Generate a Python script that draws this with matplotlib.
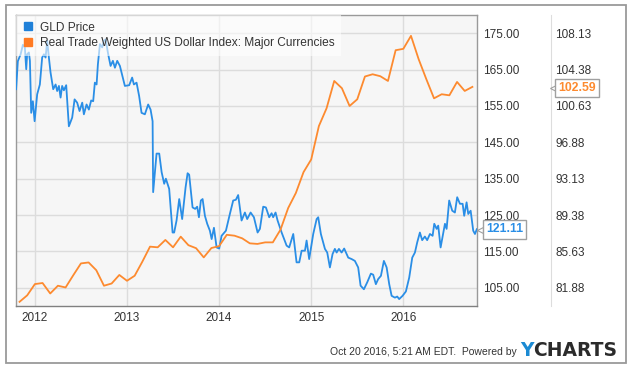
import numpy as np
import matplotlib
matplotlib.use("Agg")
import matplotlib.pyplot as plt
from matplotlib.lines import Line2D
from matplotlib.patches import Rectangle

plt.rcParams['font.family'] = ['Liberation Sans', 'DejaVu Sans']

# GLD price (left/inner right axis), x in decimal years
gld_years = [2011.796, 2011.815, 2011.845, 2011.870, 2011.891, 2011.906, 2011.916, 2011.935, 2011.946, 2011.960,
             2011.978, 2011.997, 2012.025, 2012.054, 2012.079, 2012.098, 2012.116, 2012.134, 2012.152, 2012.170,
             2012.199, 2012.225, 2012.242, 2012.261, 2012.279, 2012.296, 2012.315, 2012.340, 2012.369, 2012.405,
             2012.431, 2012.459, 2012.485, 2012.514, 2012.532, 2012.561, 2012.586, 2012.611, 2012.633, 2012.651,
             2012.670, 2012.684, 2012.706, 2012.731, 2012.749, 2012.768, 2012.796, 2012.822, 2012.847, 2012.869,
             2012.894, 2012.923, 2012.941, 2012.977, 2013.024, 2013.056, 2013.075, 2013.104, 2013.132, 2013.158,
             2013.194, 2013.230, 2013.256, 2013.278, 2013.284, 2013.321, 2013.350, 2013.376, 2013.404, 2013.422,
             2013.458, 2013.495, 2013.512, 2013.538, 2013.567, 2013.599, 2013.636, 2013.658, 2013.675, 2013.712,
             2013.740, 2013.762, 2013.781, 2013.802, 2013.821, 2013.846, 2013.871, 2013.900, 2013.919, 2013.944,
             2013.973, 2014.001, 2014.027, 2014.074, 2014.117, 2014.153, 2014.182, 2014.207, 2014.244, 2014.280,
             2014.305, 2014.342, 2014.378, 2014.418, 2014.443, 2014.479, 2014.508, 2014.544, 2014.570, 2014.587,
             2014.613, 2014.635, 2014.679, 2014.733, 2014.761, 2014.805, 2014.841, 2014.870, 2014.896, 2014.932,
             2014.950, 2014.978, 2015.022, 2015.059, 2015.076, 2015.105, 2015.149, 2015.174, 2015.203, 2015.232,
             2015.257, 2015.276, 2015.301, 2015.330, 2015.358, 2015.384, 2015.402, 2015.439, 2015.474, 2015.510,
             2015.536, 2015.572, 2015.608, 2015.648, 2015.673, 2015.702, 2015.727, 2015.757, 2015.789, 2015.819,
             2015.847, 2015.873, 2015.909, 2015.934, 2015.955, 2015.992, 2016.028, 2016.064, 2016.097, 2016.126,
             2016.151, 2016.180, 2016.205, 2016.234, 2016.259, 2016.289, 2016.318, 2016.336, 2016.362, 2016.379,
             2016.405, 2016.452, 2016.470, 2016.498, 2016.531, 2016.560, 2016.585, 2016.615, 2016.644, 2016.661,
             2016.687, 2016.705, 2016.731, 2016.759, 2016.778, 2016.798]
gld_price = [159.6, 167.3, 169.2, 171.8, 171.1, 165.1, 169.2, 169.7, 167.4, 153.1,
             156.3, 150.8, 158.2, 160.9, 168.3, 169.2, 168.3, 172.9, 168.3, 164.2,
             159.6, 160.9, 159.1, 160.5, 157.3, 160.5, 159.3, 160.7, 149.4, 151.8,
             156.8, 155.9, 153.6, 155.9, 152.7, 155.4, 154.0, 156.5, 156.3, 161.4,
             160.9, 166.4, 172.0, 171.1, 172.9, 173.3, 169.2, 166.0, 167.4, 165.5,
             167.4, 166.0, 164.2, 160.5, 160.7, 162.8, 160.9, 161.4, 157.7, 153.1,
             152.7, 155.4, 154.0, 150.8, 131.3, 141.9, 141.9, 136.8, 133.6, 135.0,
             132.2, 120.2, 120.2, 123.5, 129.4, 123.9, 132.6, 136.5, 136.1, 127.1,
             126.7, 127.3, 124.4, 129.0, 129.4, 124.8, 122.6, 120.7, 118.4, 121.5,
             116.1, 115.8, 119.3, 120.7, 125.3, 129.0, 129.2, 130.5, 123.5, 125.7,
             123.9, 125.7, 124.4, 120.2, 121.2, 127.3, 127.1, 124.4, 125.5, 124.4,
             125.7, 123.5, 120.2, 116.6, 116.1, 119.8, 112.0, 112.0, 115.2, 115.2,
             118.0, 112.9, 119.8, 123.9, 124.4, 119.8, 115.7, 114.7, 110.6, 114.3,
             115.7, 114.7, 115.7, 114.7, 115.8, 114.3, 113.3, 112.9, 112.4, 110.6,
             105.6, 104.6, 106.5, 108.9, 108.6, 106.0, 107.4, 108.3, 112.4, 110.6,
             106.0, 102.8, 102.3, 102.6, 101.9, 102.8, 104.0, 107.8, 113.3, 114.7,
             117.5, 120.2, 118.1, 119.1, 118.1, 119.8, 119.3, 122.6, 121.2, 122.1,
             116.1, 122.6, 121.2, 129.0, 126.2, 125.7, 129.9, 128.1, 128.1, 124.8,
             128.5, 125.3, 126.2, 120.7, 119.8, 121.11]

# Real trade weighted USD index, monthly Nov 2011 .. Oct 2016
usd_start_year = 2011
usd_start_month = 11
usd_index = [80.43, 81.10, 82.26, 82.37, 81.29, 82.09, 81.91, 83.17, 84.39, 84.49,
             83.69, 82.09, 82.32, 83.20, 82.60, 83.12, 84.57, 86.12, 86.05, 86.81,
             86.05, 87.15, 86.27, 85.96, 85.01, 85.98, 86.17, 87.34, 87.25, 86.98,
             86.46, 86.40, 86.56, 86.56, 87.87, 90.10, 91.65, 93.80, 95.11, 98.55,
             100.38, 103.20, 102.45, 100.62, 101.31, 103.66, 103.89, 103.69, 103.20, 106.37,
             106.51, 107.85, 105.44, 103.38, 101.41, 101.83, 101.72, 103.10, 102.17, 102.59]

gld_ticks = [105, 115, 125, 135, 145, 155, 165, 175]
usd_ticks = [81.88, 85.63, 89.38, 93.13, 96.88, 100.63, 104.38, 108.13]
year_ticks = [2012, 2013, 2014, 2015, 2016]

BLUE = '#2a8ee6'
ORANGE = '#fd8a2f'
W, H = 635, 370

fig = plt.figure(figsize=(W / 100, H / 100), dpi=100)
fig.patch.set_facecolor('white')

def fx(px):
    return px / W

def fy(py):
    return 1 - py / H

# outer frame
fig.add_artist(Rectangle((fx(6), fy(363)), fx(620), (363 - 5) / H, transform=fig.transFigure,
                         fill=False, ec='#9a9a9a', lw=1.3))

ax = fig.add_axes([fx(16), fy(306), fx(461), (306 - 15) / H])
ax.set_facecolor('#f6f6f6')
ax.set_xlim(2011.795, 2016.80)
ax.set_ylim(100, 180)
ax.plot(gld_years, gld_price, color=BLUE, lw=1.3, zorder=3)

ax2 = ax.twinx()
ax2.set_ylim(80, 110)
usd_years = usd_start_year + (usd_start_month - 1) / 12 + np.arange(len(usd_index)) / 12
ax2.plot(usd_years, usd_index, color=ORANGE, lw=1.3)

# GLD ticks on the inner right side (twinx moved them left, so set after it)
ax.set_xticks(year_ticks)
ax.set_xticklabels([str(y) for y in year_ticks])
ax.set_yticks(gld_ticks)
ax.set_yticklabels([f'{v:.2f}' for v in gld_ticks])
ax.yaxis.tick_right()
ax.tick_params(axis='both', length=0, labelsize=8.5, labelcolor='#333333')
ax.tick_params(axis='y', pad=4)
ax.tick_params(axis='x', pad=4)
ax.grid(True, color='#dcdcdc', lw=1)
ax.set_axisbelow(True)
for s in ax.spines.values():
    s.set_color('#9a9a9a')
    s.set_linewidth(1)
ax.spines['bottom'].set_color('#808080')

ax2.set_yticks(usd_ticks)
ax2.set_yticklabels([f'{v:.2f}' for v in usd_ticks])
ax2.tick_params(axis='y', length=0, labelsize=8.5, labelcolor='#333333', pad=3)
for k in ['top', 'bottom', 'left']:
    ax2.spines[k].set_visible(False)
ax2.spines['right'].set_position(('outward', 74 * 0.72))
ax2.spines['right'].set_color('#dddddd')

handles = [Line2D([], [], ls='none', marker='s', ms=6, color='#1f80d8'),
           Line2D([], [], ls='none', marker='s', ms=6, color='#ff7a22')]
leg = ax2.legend(handles, ['GLD Price', 'Real Trade Weighted US Dollar Index: Major Currencies'],
                 loc='upper left', bbox_to_anchor=(0, 1), borderaxespad=0, fontsize=8.6,
                 frameon=True, fancybox=False, handlelength=0.9, handletextpad=0.55,
                 labelspacing=0.32, borderpad=0.55)
leg.get_frame().set_facecolor('white')
leg.get_frame().set_alpha(0.6)
leg.get_frame().set_edgecolor('none')
for t in leg.get_texts():
    t.set_color('#333333')

# last-value flags
def flag(cx, cy, text, color, tip_x):
    fig.text(fx(cx), fy(cy), text, color=color, fontsize=8.8, fontweight='bold', ha='center', va='center',
             bbox=dict(boxstyle='square,pad=0.28', fc='white', ec='#a0a0a0', lw=1))
    fig.add_artist(Line2D([fx(tip_x)], [fy(cy)], transform=fig.transFigure, marker='<', ms=5,
                          mfc='white', mec='#a0a0a0', mew=0.8, ls='none'))

flag(504.5, 229.5, f'{gld_price[-1]:.2f}', BLUE, 480)
flag(577, 88, f'{usd_index[-1]:.2f}', ORANGE, 553)

# footer
fig.text(fx(517), fy(355), 'Oct 20 2016, 5:21 AM EDT.  Powered by', fontsize=7.5, color='#333333',
         ha='right', va='baseline')
ty = fig.text(fx(520), fy(356), 'Y', fontsize=13.5, fontweight='bold', color='#1b8ad3',
              ha='left', va='baseline', family='DejaVu Sans')
fig.canvas.draw()
bb = ty.get_window_extent(fig.canvas.get_renderer())
fig.text(bb.x1 / W, fy(356), 'CHARTS', fontsize=13.5, fontweight='bold', color='#2b2b2b',
         ha='left', va='baseline', family='DejaVu Sans')

fig.savefig('out.png', dpi=100)
